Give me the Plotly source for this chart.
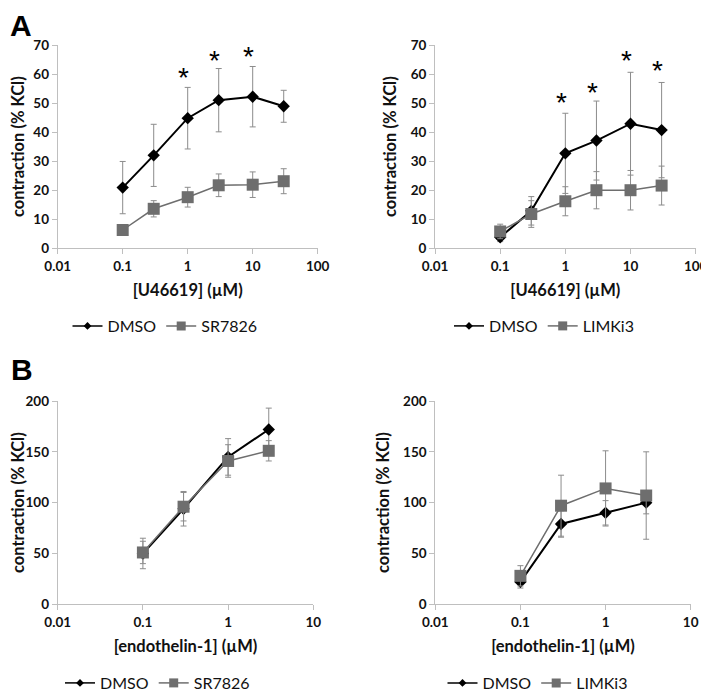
import math
import plotly.graph_objects as go

# ---------------- data ----------------
a_x = [0.1, 0.3, 1, 3, 10, 30]
a1_dmso = [20.9, 32.0, 44.8, 51.0, 52.2, 48.9]
a1_dmso_err = [9.0, 10.7, 10.6, 10.9, 10.4, 5.5]
a1_sr = [6.3, 13.6, 17.6, 21.7, 21.9, 23.1]
a1_sr_err = [1.0, 2.8, 3.4, 3.9, 4.4, 4.3]
a2_dmso = [3.8, 12.9, 32.7, 37.1, 42.9, 40.7]
a2_dmso_err = [1.5, 4.9, 13.8, 13.6, 17.7, 16.4]
a2_limk = [5.8, 11.8, 16.2, 20.0, 20.0, 21.6]
a2_limk_err = [2.5, 4.6, 5.0, 6.4, 6.8, 6.7]

b_x = [0.1, 0.3, 1, 3]
b1_dmso = [50, 94, 145, 172]
b1_dmso_err = [15, 17, 18, 21]
b1_sr = [51, 96, 141, 151]
b1_sr_err = [11, 14, 16, 10]
b2_dmso = [22, 79, 90, 100]
b2_dmso_err = [6, 13, 12, 11]
b2_limk = [28, 97, 114, 107]
b2_limk_err = [10, 30, 37, 43]

star_a1_x = [1, 3, 10]
star_a1_y = [60.2, 66.0, 67.3]
star_a2_x = [1, 3, 10, 30]
star_a2_y = [51.6, 55.1, 66.0, 62.5]

a_ticks = [0.01, 0.1, 1, 10, 100]
a_ticktext = ["0.01", "0.1", "1", "10", "100"]
b_ticks = [0.01, 0.1, 1, 10]
b_ticktext = ["0.01", "0.1", "1", "10"]

# ---------------- style ----------------
FONT = "Lato"
AXC = "#bfbfbf"
GRAY = "#6e6e6e"
ERRC = "#8c8c8c"
TXT = "#111111"

fig = go.Figure()

panels = [
    ("x", "y", "legend", a_x, a1_dmso, a1_dmso_err, a1_sr, a1_sr_err, "SR7826"),
    ("x2", "y2", "legend2", a_x, a2_dmso, a2_dmso_err, a2_limk, a2_limk_err, "LIMKi3"),
    ("x3", "y3", "legend3", b_x, b1_dmso, b1_dmso_err, b1_sr, b1_sr_err, "SR7826"),
    ("x4", "y4", "legend4", b_x, b2_dmso, b2_dmso_err, b2_limk, b2_limk_err, "LIMKi3"),
]

for xa, ya, lg, xs, d, de, t, te, tname in panels:
    fig.add_trace(go.Scatter(
        x=xs, y=d, name="DMSO", mode="lines+markers", xaxis=xa, yaxis=ya,
        showlegend=False,
        line=dict(color="black", width=2),
        marker=dict(symbol="diamond", size=9.5, color="black"),
        error_y=dict(type="data", array=de, color=ERRC, thickness=1, width=3),
        cliponaxis=False,
    ))
    fig.add_trace(go.Scatter(
        x=xs, y=t, name=tname, mode="lines+markers", xaxis=xa, yaxis=ya,
        showlegend=False,
        line=dict(color=GRAY, width=1.5),
        marker=dict(symbol="square", size=12, color=GRAY),
        error_y=dict(type="data", array=te, color=ERRC, thickness=1, width=3),
        cliponaxis=False,
    ))
    # legend entries (smaller symbols, as in the original legend)
    fig.add_trace(go.Scatter(
        x=[None], y=[None], name="DMSO", mode="lines+markers", xaxis=xa, yaxis=ya, legend=lg,
        line=dict(color="black", width=1.5),
        marker=dict(symbol="diamond", size=6, color="black"),
    ))
    fig.add_trace(go.Scatter(
        x=[None], y=[None], name=tname, mode="lines+markers", xaxis=xa, yaxis=ya, legend=lg,
        line=dict(color=GRAY, width=1.5),
        marker=dict(symbol="square", size=9, color=GRAY),
    ))

PAGE_OFF = 8          # default body margin of the html page
W, H = 709 - PAGE_OFF, 693 - PAGE_OFF

def px(v):
    return (v - PAGE_OFF) / W

def py(v):
    return 1 - (v - PAGE_OFF) / H

xdoms = [[px(57.7), px(317.7)], [px(435), px(695.7)], [px(57.7), px(313.3)], [px(435.3), px(690.7)]]
ydoms = [[py(248.3), py(45)], [py(248.3), py(45)], [py(604.3), py(401)], [py(604.3), py(401)]]

tickfont = dict(family=FONT, size=13.5, color=TXT, weight="bold")
titlefont = dict(family=FONT, size=16.5, color=TXT, weight="bold")

xtitles = ["[U46619] (µM)", "[U46619] (µM)", "[endothelin-1] (µM)", "[endothelin-1] (µM)"]
layout = {}
for i in range(4):
    sfx = "" if i == 0 else str(i + 1)
    isA = i < 2
    layout["xaxis" + sfx] = dict(
        domain=xdoms[i], type="log", range=[-2, 2] if isA else [-2, 1],
        tickvals=a_ticks if isA else b_ticks, ticktext=a_ticktext if isA else b_ticktext,
        showline=True, linecolor=AXC, linewidth=1, ticks="outside", ticklen=5,
        tickcolor=AXC, showgrid=False, zeroline=False, tickfont=tickfont,
        anchor="y" + sfx, automargin=False,
        title=dict(text=xtitles[i], font=titlefont, standoff=11),
    )
    layout["yaxis" + sfx] = dict(
        domain=ydoms[i], range=[0, 70] if isA else [0, 200], dtick=10 if isA else 50,
        showline=True, linecolor=AXC, linewidth=1, ticks="outside", ticklen=5,
        tickcolor=AXC, showgrid=False, zeroline=False, tickfont=tickfont,
        anchor="x" + sfx, automargin=False,
        title=dict(text="contraction (% KCl)", font=titlefont, standoff=9),
    )

leg_pos = [(165, 326), (544, 326), (157.5, 683), (537.5, 683)]
for i, (lx, ly) in enumerate(leg_pos):
    key = "legend" if i == 0 else "legend" + str(i + 1)
    layout[key] = dict(
        orientation="h", x=px(lx), y=py(ly), xanchor="center", yanchor="middle",
        font=dict(family=FONT, size=16, color=TXT), bgcolor="rgba(0,0,0,0)",
        itemwidth=30, tracegroupgap=0,
    )

fig.update_layout(
    template="none",
    width=W, height=H, margin=dict(l=0, r=0, t=0, b=0, autoexpand=False),
    paper_bgcolor="white", plot_bgcolor="white", showlegend=True,
    **layout,
)

# asterisks (log axes: annotation x is given in log10 units)
for sx, sy, xr, yr in [(star_a1_x, star_a1_y, "x", "y"), (star_a2_x, star_a2_y, "x2", "y2")]:
    for xv, yv in zip(sx, sy):
        fig.add_annotation(x=math.log10(xv), y=yv, xref=xr, yref=yr, text="*", showarrow=False,
                           xshift=-4, yshift=-4,
                           font=dict(family="Liberation Sans", size=28, color="black"))

# panel labels
fig.add_annotation(x=0, y=1, xref="paper", yref="paper", text="<b>A</b>", showarrow=False,
                   xanchor="left", yanchor="top", yshift=1,
                   font=dict(family="Liberation Sans", size=30, color="black"))
fig.add_annotation(x=0, y=py(355), xref="paper", yref="paper", text="<b>B</b>", showarrow=False,
                   xanchor="left", yanchor="top", xshift=1, yshift=4,
                   font=dict(family="Liberation Sans", size=30, color="black"))

fig.write_html("out.html")
